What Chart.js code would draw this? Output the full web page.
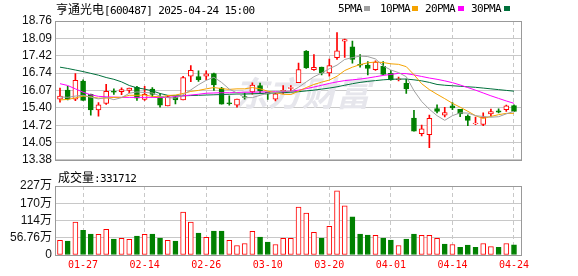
<!DOCTYPE html>
<html>
<head>
<meta charset="utf-8">
<script src="https://cdn.jsdelivr.net/npm/chart.js@4.4.1/dist/chart.umd.min.js"></script>
<style>
html, body { margin: 0; padding: 0; background: #fff; }
#wrap { position: relative; width: 578px; height: 276px; overflow: hidden; }
canvas { position: absolute; left: 0; }
.t { position: absolute; white-space: nowrap; font-family: "DejaVu Sans Mono", monospace; font-size: 11px; letter-spacing: -0.6px; line-height: 12px; color: #000; }
.t .cn { font-family: "Noto Sans CJK SC", sans-serif; font-size: 12px; letter-spacing: 0; }
.sq { position: absolute; width: 6px; height: 5px; top: 6px; }
</style>
</head>
<body>
<div id="wrap">
  <canvas id="kline" width="578" height="170" style="top:0"></canvas>
  <canvas id="vol" width="578" height="106" style="top:170px"></canvas>
  <div class="t" style="left:56px;top:3px"><span class="cn">亨通光电</span>[600487] 2025-04-24 15:00</div>
  <div class="t" style="left:338px;top:3px">5PMA</div><div class="sq" style="left:364px;background:#a0a0a0"></div>
  <div class="t" style="left:380px;top:3px">10PMA</div><div class="sq" style="left:412px;background:#f5a300"></div>
  <div class="t" style="left:425px;top:3px">20PMA</div><div class="sq" style="left:458px;background:#ff00ff"></div>
  <div class="t" style="left:471px;top:3px">30PMA</div><div class="sq" style="left:504px;background:#00703c"></div>
  <div class="t" style="left:58px;top:171px"><span class="cn">成交量</span>:331712</div>
</div>
<script>
// 交易日 2025-01-22 .. 2025-04-24
var dates = ['01-22','01-23','01-24','01-27','02-05','02-06','02-07','02-10','02-11','02-12',
  '02-13','02-14','02-17','02-18','02-19','02-20','02-21','02-24','02-25','02-26',
  '02-27','02-28','03-03','03-04','03-05','03-06','03-07','03-10','03-11','03-12',
  '03-13','03-14','03-17','03-18','03-19','03-20','03-21','03-24','03-25','03-26',
  '03-27','03-28','03-31','04-01','04-02','04-03','04-07','04-08','04-09','04-10',
  '04-11','04-14','04-15','04-16','04-17','04-18','04-21','04-22','04-23','04-24'];

var opens = [15.73,16.08,15.73,16.43,15.92,15.31,15.57,16.03,16.02,16.07,
  16.19,15.72,16.12,15.82,15.47,15.82,15.70,16.62,16.61,16.62,
  16.72,16.16,15.59,15.50,15.83,16.01,16.26,16.00,15.73,16.02,
  16.15,16.37,17.59,16.87,16.97,16.75,17.34,17.98,17.76,17.08,
  17.05,16.87,17.00,16.73,16.49,16.34,15.00,14.39,14.35,15.37,
  15.11,15.47,15.34,15.07,14.78,14.75,15.16,15.28,15.32,15.48];
var highs = [16.16,16.23,16.72,16.48,15.93,15.60,16.31,16.13,16.17,16.16,
  16.23,16.23,16.18,15.95,15.87,15.85,16.62,17.03,16.83,16.83,
  16.74,16.19,15.86,15.73,15.97,16.36,16.35,16.00,15.98,16.26,
  16.26,17.13,17.61,17.46,16.97,17.28,18.31,18.06,17.98,17.46,
  17.19,17.22,17.19,16.85,16.59,16.51,15.30,14.73,15.11,15.51,
  15.41,15.60,15.34,15.12,15.04,15.20,15.35,15.36,15.50,15.51];
var lows = [15.61,15.70,15.67,15.68,15.11,15.07,15.53,15.91,15.90,15.97,
  15.68,15.68,15.82,15.42,15.47,15.55,15.70,16.41,16.42,16.49,
  16.07,15.54,15.50,15.42,15.73,15.92,15.95,15.72,15.66,15.95,
  16.04,16.37,16.92,16.84,16.67,16.62,17.27,17.35,17.13,16.97,
  16.67,16.84,16.67,16.47,16.44,15.95,14.49,14.31,13.85,15.20,
  15.04,15.32,15.05,14.70,14.74,14.70,15.07,15.20,15.26,15.26];
var closes = [15.85,15.73,16.46,15.68,15.31,15.51,16.03,16.00,16.10,16.16,
  15.77,15.92,15.91,15.50,15.83,15.70,16.57,16.85,16.49,16.71,
  16.28,15.54,15.56,15.73,15.80,16.28,16.05,15.92,15.94,16.07,
  16.18,16.88,16.94,16.96,16.75,17.03,17.60,18.04,17.27,17.05,
  16.92,17.17,16.69,16.48,16.52,16.13,14.49,14.58,14.99,15.26,
  15.21,15.39,15.16,14.91,14.80,15.04,15.25,15.23,15.47,15.26];

var ma5 = [15.82,15.80,15.85,15.88,15.81,15.74,15.80,15.71,15.79,15.96,
  16.01,15.99,15.97,15.85,15.79,15.77,15.90,16.09,16.29,16.46,
  16.58,16.38,16.12,15.97,15.79,15.79,15.88,15.96,15.99,16.05,
  16.03,16.19,16.40,16.60,16.74,16.91,17.05,17.27,17.34,17.40,
  17.38,17.29,17.02,16.86,16.76,16.60,16.06,15.64,15.34,15.09,
  14.91,15.09,15.20,15.19,15.09,15.06,15.03,15.05,15.16,15.26];
var ma10 = [15.70,15.72,15.78,15.85,15.82,15.77,15.77,15.80,15.80,15.88,
  15.88,15.89,15.84,15.82,15.87,15.89,15.95,16.03,16.07,16.13,
  16.18,16.14,16.11,16.13,16.13,16.18,16.13,16.04,15.98,15.92,
  15.91,16.04,16.18,16.30,16.39,16.47,16.62,16.84,16.97,17.07,
  17.14,17.17,17.15,17.10,17.08,16.99,16.68,16.33,16.10,15.92,
  15.75,15.57,15.42,15.26,15.09,14.98,15.06,15.13,15.18,15.18];
var ma20 = [16.33,16.26,16.13,16.00,15.90,15.84,15.82,15.81,15.80,15.80,
  15.80,15.80,15.80,15.79,15.80,15.83,15.86,15.89,15.92,15.96,
  15.97,15.98,15.98,15.99,16.00,16.00,16.01,16.01,16.02,16.02,
  16.04,16.08,16.14,16.20,16.27,16.34,16.40,16.45,16.48,16.51,
  16.55,16.60,16.65,16.69,16.73,16.72,16.67,16.61,16.55,16.50,
  16.44,16.37,16.28,16.18,16.08,15.97,15.86,15.76,15.66,15.57];
var ma30 = [16.97,16.92,16.86,16.80,16.73,16.66,16.57,16.50,16.40,16.26,
  16.17,16.12,16.05,15.95,15.88,15.86,15.86,15.87,15.88,15.89,
  15.90,15.91,15.92,15.93,15.93,15.94,15.95,15.96,15.97,15.98,
  16.00,16.02,16.05,16.08,16.12,16.16,16.21,16.27,16.33,16.38,
  16.42,16.45,16.48,16.50,16.51,16.51,16.48,16.44,16.38,16.30,
  16.27,16.25,16.23,16.21,16.19,16.16,16.13,16.10,16.07,16.04];

// 成交量, 万手
var volumes = [47.9,45.6,108,81.2,69,67.9,84.6,52.3,54.5,51.2,
  62.3,67.9,69,55.6,47.9,45.6,141.3,108,72.3,57.9,
  79,79,47.9,31.2,37.8,77.9,59,42.3,34.5,54.5,
  54.5,158,138,74.6,55.6,94.6,211.5,161.4,125.8,69,
  65.7,64.6,55.6,49,31.2,52.3,69,64.6,64.6,54.5,
  35.6,34.5,25.6,32.3,25.6,37.8,27.8,25.6,37.8,33.17];

var priceTicks = ['13.38','14.05','14.72','15.40','16.07','16.74','17.42','18.09','18.76'];
var volTickValues = [0, 56.76, 113.52, 170.28, 227.04];
var volTickLabels = ['0', '56.76万', '114万', '170万', '227万'];
var labelIdx = [3, 11, 19, 27, 35, 43, 51, 59];

var RED = '#ff0000';
var GREEN = '#008000';
var GRID = '#c8c8c8';

var candleUp = closes.map(function (c, i) { return c >= opens[i]; });
var volUp = closes.map(function (c, i) { return i === 0 ? c >= opens[0] : c >= closes[i - 1]; });

function pts(arr) {
  return arr.map(function (v, i) { return {x: i, y: v}; });
}

function maLine(label, arr, color) {
  return {type: 'line', label: label, data: pts(arr), borderColor: color, borderWidth: 1,
    pointRadius: 0, fill: false, tension: 0};
}

function xAxis(showLabels) {
  return {
    type: 'linear', min: -0.65, max: 60.04, offset: false,
    afterBuildTicks: function (s) { s.ticks = labelIdx.map(function (v) { return {value: v}; }); },
    afterFit: function (s) { s.height = showLabels ? 21 : 0; },
    grid: {color: GRID, drawTicks: false, lineWidth: 1, offset: false, borderDash: [4, 3]},
    border: {display: false, dash: [4, 3]},
    ticks: {display: showLabels, autoSkip: false, maxRotation: 0, padding: 4, color: RED,
      font: {family: '"DejaVu Sans Mono", monospace', size: 10},
      callback: function (v) { return dates[v]; }}
  };
}

function yAxis(min, max, values, labels) {
  return {
    min: min, max: max,
    afterBuildTicks: function (s) { s.ticks = values.map(function (v) { return {value: v}; }); },
    afterFit: function (s) { s.width = 55; },
    grid: {color: GRID, drawTicks: false, lineWidth: 1},
    border: {display: false},
    ticks: {padding: 3, color: '#111', autoSkip: false,
      font: {family: '"Liberation Sans", "Noto Sans CJK SC", sans-serif', size: 12},
      callback: function (v, i) { return labels[i]; }}
  };
}

var framePlugin = {
  id: 'frame',
  afterDraw: function (chart) {
    var a = chart.chartArea;
    var ctx = chart.ctx;
    ctx.save();
    ctx.strokeStyle = '#999';
    ctx.lineWidth = 1;
    ctx.strokeRect(Math.round(a.left) + 0.5, Math.round(a.top) + 0.5,
      Math.round(a.right - a.left) - 1, Math.round(a.bottom - a.top));
    ctx.restore();
  }
};

var watermarkPlugin = {
  id: 'watermark',
  beforeDatasetsDraw: function (chart) {
    var ctx = chart.ctx;
    ctx.save();
    ctx.fillStyle = '#e6e6ec';
    ctx.font = 'italic bold 34px "Noto Sans CJK SC"';
    ctx.textAlign = 'center';
    ctx.textBaseline = 'middle';
    ctx.fillText('东方财富', 302, 93);
    ctx.restore();
  }
};

var common = {
  responsive: false,
  animation: false,
  events: [],
  plugins: {legend: {display: false}, tooltip: {enabled: false}}
};

new Chart(document.getElementById('kline'), {
  type: 'bar',
  data: {
    datasets: [
      maLine('5PMA', ma5, '#a0a0a0'),
      maLine('10PMA', ma10, '#f5a300'),
      maLine('20PMA', ma20, '#ff00ff'),
      maLine('30PMA', ma30, '#00703c'),
      {
        label: 'body',
        data: opens.map(function (o, i) { return {x: i, y: [Math.min(o, closes[i]), Math.max(o, closes[i])]}; }),
        backgroundColor: candleUp.map(function (u) { return u ? '#ffffff' : GREEN; }),
        borderColor: candleUp.map(function (u) { return u ? RED : GREEN; }),
        borderWidth: 1, borderSkipped: false, barThickness: 5, grouped: false
      },
      {
        label: 'wick',
        data: lows.map(function (l, i) { return {x: i, y: [l, highs[i]]}; }),
        backgroundColor: candleUp.map(function (u) { return u ? RED : GREEN; }),
        borderWidth: 0, barThickness: 1, grouped: false
      }
    ]
  },
  options: Object.assign({}, common, {
    layout: {padding: {left: 0, right: 56, top: 21, bottom: 5}},
    scales: {
      x: xAxis(false),
      y: yAxis(13.38, 18.76, priceTicks.map(parseFloat), priceTicks)
    }
  }),
  plugins: [watermarkPlugin, framePlugin]
});

new Chart(document.getElementById('vol'), {
  type: 'bar',
  data: {
    datasets: [{
      label: 'volume',
      data: pts(volumes),
      backgroundColor: volUp.map(function (u) { return u ? '#ffffff' : GREEN; }),
      borderColor: volUp.map(function (u) { return u ? RED : GREEN; }),
      borderWidth: 1, borderSkipped: false, barThickness: 5, grouped: false
    }]
  },
  options: Object.assign({}, common, {
    layout: {padding: {left: 0, right: 56, top: 16, bottom: 0}},
    scales: {
      x: xAxis(true),
      y: yAxis(0, 227.04, volTickValues, volTickLabels)
    }
  }),
  plugins: [framePlugin]
});
</script>
</body>
</html>
